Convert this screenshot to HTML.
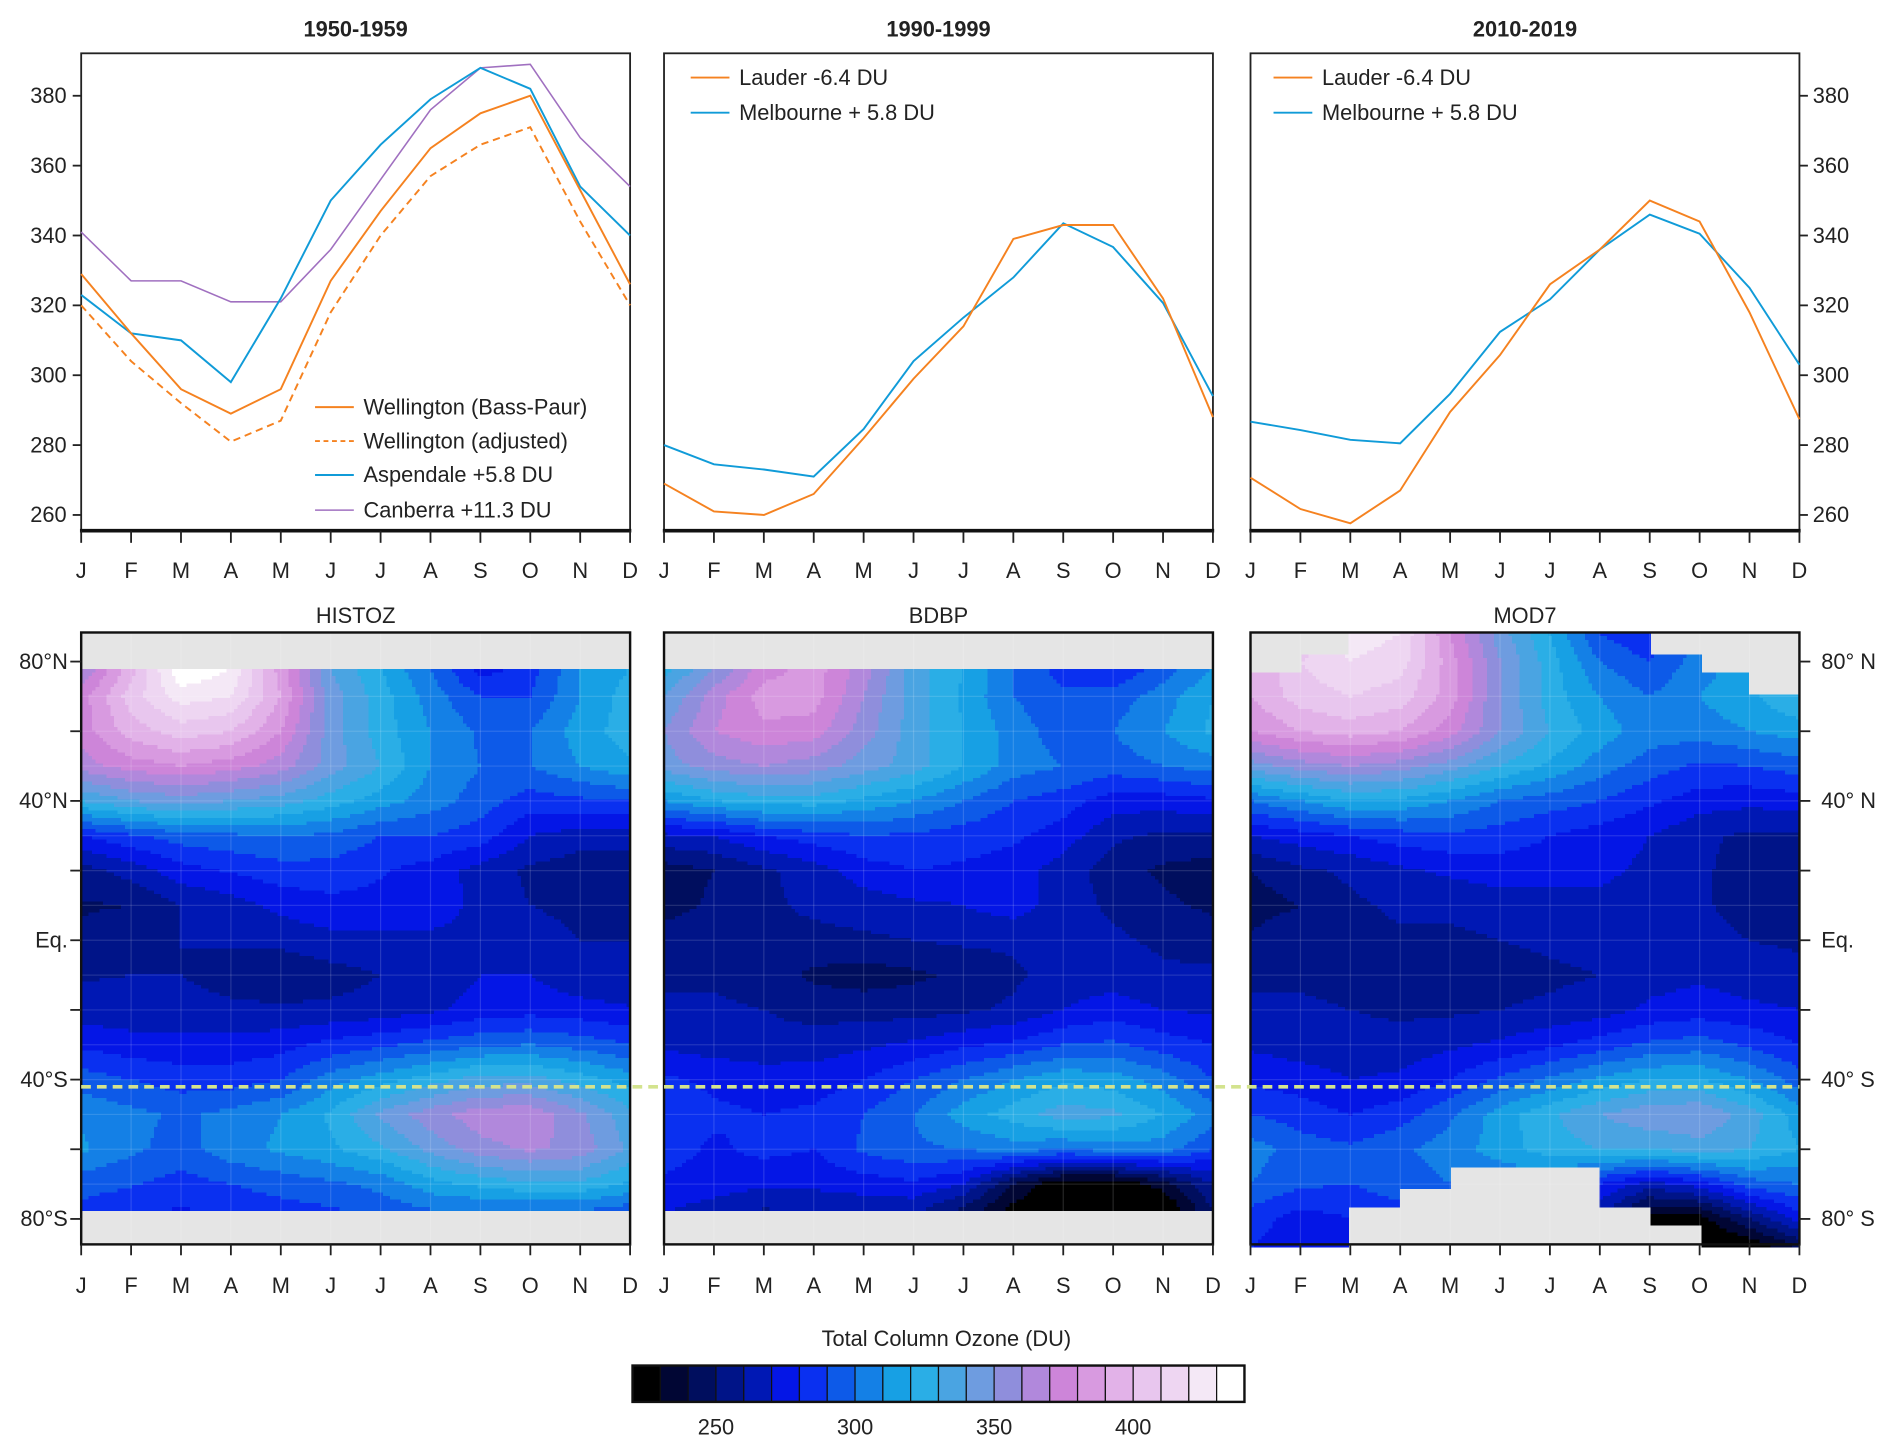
<!DOCTYPE html>
<html><head><meta charset="utf-8">
<style>
html,body{margin:0;padding:0;background:#fff;}
svg{display:block;font-family:"Liberation Sans",Arial,sans-serif;}
text{fill:#222;}
</style></head>
<body>
<svg id="fig" width="1900" height="1454" viewBox="0 0 1568 1200" preserveAspectRatio="none" xmlns="http://www.w3.org/2000/svg">
</svg>
<script>
// ---------- line chart data ----------
const months = ["J","F","M","A","M","J","J","A","S","O","N","D"];
const yTicks = [260,280,300,320,340,360,380];
const wellingtonBP = [329,312,296,289,296,327,347,365,375,380,353,326];
const wellingtonAdj = [320,304,292,281,287,318,340,357,366,371,344,320];
const aspendale = [323,312,310,298,322,350,366,379,388,382,354,340];
const canberra = [341,327,327,321,321,336,356,376,388,389,368,354];
const lauder90 = [269,261,260,266,282,299,314,339,343,343,322,288];
const melbourne90 = [280,274.5,273,271,284.6,304,316.5,328,343.5,336.7,320.7,294];
const lauder10 = [270.7,261.7,257.6,267,289.5,305.8,326,336,350,344,318,287.4];
const melbourne10 = [286.7,284.3,281.5,280.5,294.7,312.4,321.7,336,346,340.5,325,303];

// ---------- colour scale ----------
const cbLevels = [220,230,240,250,260,270,280,290,300,310,320,330,340,350,360,370,380,390,400,410,420,430,440];
const cbColors = ["#000000","#010634","#000e5e","#001488","#0018b4","#0416e6","#0a30f0","#0d5ae8","#1480e6","#17a0e4","#2aaee6","#4aa4e2","#6e9ce0","#8f8edc","#b188dc","#cd85d9","#d89ae0","#e2b2e8","#e8c6ee","#eed6f2","#f4e8f6","#ffffff"];
const cbTicks = [250,300,350,400];

// ---------- heatmap data (rows = latitude, cols = month) ----------
const latsA = [78,70,60,50,40,30,20,10,0,-10,-20,-30,-40,-50,-60,-70,-78];
const histoz = [
[360,395,440,430,385,340,320,300,275,285,310,320],
[375,405,425,420,390,345,325,305,290,290,310,325],
[375,395,405,400,380,345,325,310,298,300,315,325],
[365,375,380,375,365,345,330,310,300,300,310,318],
[330,340,345,340,335,325,315,305,295,285,288,290],
[280,288,295,298,300,298,290,290,285,270,265,265],
[256,264,276,281,286,286,281,276,266,258,254,254],
[249,250,260,265,273,277,277,277,266,260,257,253],
[252,256,260,261,263,267,267,267,267,265,260,260],
[259,260,260,256,252,256,260,263,270,270,263,262],
[264,264,264,262,262,262,264,268,274,276,274,271],
[278,274,273,274,276,283,288,293,298,300,296,290],
[295,290,285,285,290,305,315,325,335,335,325,315],
[308,303,298,303,310,322,342,356,366,368,352,333],
[312,302,296,306,312,318,328,343,356,362,356,338],
[293,291,286,290,294,298,303,316,323,328,328,318],
[288,283,278,283,286,288,293,298,298,298,298,293]];
const bdbp = [
[325,350,375,385,365,335,320,300,285,280,295,310],
[340,365,385,385,360,335,318,300,292,295,305,320],
[350,370,378,375,355,335,320,305,295,300,310,322],
[345,355,360,355,345,335,320,305,300,295,300,305],
[310,320,325,325,318,310,300,290,285,275,275,278],
[268,270,280,285,290,288,285,282,275,262,258,258],
[245,250,258,265,275,280,278,275,265,255,248,245],
[245,252,258,262,265,268,270,275,265,258,252,248],
[256,258,258,257,258,260,262,262,262,262,258,255],
[258,258,255,248,245,248,252,258,265,265,262,262],
[262,262,260,256,256,256,258,262,270,275,270,268],
[268,265,264,265,268,272,278,282,290,292,285,280],
[282,278,275,275,280,290,300,310,318,315,305,290],
[285,282,280,282,290,300,315,325,335,332,320,305],
[285,278,283,280,292,298,300,305,300,305,305,290],
[278,275,272,272,275,278,270,240,220,220,235,260],
[270,265,258,262,262,262,245,225,215,215,215,250]];
const latsB = [88,80,70,60,50,40,30,20,10,0,-10,-20,-30,-40,-50,-60,-70,-80,-88];
const mod7 = [
[380,400,425,420,380,345,320,290,280,300,310,330],
[390,410,420,415,385,350,325,300,290,305,315,335],
[390,405,410,405,385,350,325,310,300,310,318,330],
[380,390,395,390,375,350,330,315,305,305,310,315],
[345,355,360,355,345,330,318,305,295,288,290,295],
[300,310,320,318,310,300,295,290,282,275,273,275],
[270,275,280,285,288,285,280,275,270,262,258,258],
[250,258,262,268,272,275,275,272,268,262,255,250],
[245,250,258,262,262,265,265,268,265,262,255,252],
[252,258,258,258,258,260,262,264,265,264,260,258],
[258,258,256,256,252,256,258,260,266,268,265,264],
[262,262,260,258,258,260,262,265,272,275,272,270],
[268,265,264,264,268,272,278,285,292,295,288,280],
[278,275,270,272,280,292,302,312,320,320,310,295],
[290,285,280,285,298,315,328,340,348,350,335,315],
[305,295,292,298,305,315,325,330,330,335,330,320],
[300,292,290,295,300,300,300,280,265,275,295,300],
[285,275,280,285,290,290,290,260,225,225,250,275],
[280,275,275,280,280,280,280,250,220,215,220,240]];
// MOD7 data coverage per month interval (lat limits)
const mod7TopLat = [76.6,82,90,90,90,90,90,90,82,76.6,71];
const mod7BotLat = [-90,-90,-77,-71,-65.5,-65.5,-65.5,-77,-82,-90,-90];

// ---------- helpers ----------
const NS = "http://www.w3.org/2000/svg";
const svg = document.getElementById("fig");
function el(tag, attrs, parent, txt){
  const e = document.createElementNS(NS, tag);
  for (const k in attrs) e.setAttribute(k, attrs[k]);
  if (txt !== undefined) e.textContent = txt;
  (parent || svg).appendChild(e);
  return e;
}
const PW = 453;
const panelX = [67, 548, 1032];
function xM(p, i){ return panelX[p] + i * PW / 11; }
const TOP = 44, BOT = 438;
function yV(v){ return 425 - (v - 260) * 2.883; }
const MTOP = 522, MBOT = 1027;
function yLat(l){ return 546 + (80 - l) * 2.875; }
function latY(y){ return 80 - (y - 546) / 2.875; }
function colorFor(v){
  let k = Math.floor((v - 220) / 10);
  if (k < 0) k = 0; if (k > 21) k = 21;
  return cbColors[k];
}

const titles = ["1950-1959","1990-1999","2010-2019"];
const mapTitles = ["HISTOZ","BDBP","MOD7"];

// ---------- top line panels ----------
for (let p = 0; p < 3; p++){
  const g = el("g", {}, svg);
  
  
  const t = el("text", {x: panelX[p] + PW/2, y: 30, "text-anchor": "middle", "font-size": 18, "font-weight": "bold"}, g, titles[p]);
  
  
  el("rect", {x: panelX[p], y: TOP, width: PW, height: BOT - TOP, fill: "none", stroke: "#222", "stroke-width": 1.5}, g);
  el("line", {x1: panelX[p] - 1, x2: panelX[p] + PW + 1, y1: BOT, y2: BOT, stroke: "#111", "stroke-width": 3}, g);
  for (let i = 0; i < 12; i++){
    el("line", {x1: xM(p,i), x2: xM(p,i), y1: BOT, y2: BOT + 10, stroke: "#222", "stroke-width": 1.5}, g);
    const mt = el("text", {x: xM(p,i), y: 477, "text-anchor": "middle", "font-size": 18}, g, months[i]);
    
    
  }
}
for (const v of yTicks){
  el("line", {x1: 60, x2: 67, y1: yV(v), y2: yV(v), stroke: "#222", "stroke-width": 1.5});
  const a = el("text", {x: 55, y: yV(v) + 6, "text-anchor": "end", "font-size": 18}, svg, String(v));
  
  
  el("line", {x1: 1485, x2: 1492, y1: yV(v), y2: yV(v), stroke: "#222", "stroke-width": 1.5});
  const b = el("text", {x: 1496, y: yV(v) + 6, "text-anchor": "start", "font-size": 18}, svg, String(v));
  
  
}
function series(p, data, color, dash, name, width){
  const pts = data.map((v,i) => xM(p,i).toFixed(1) + "," + yV(v).toFixed(1)).join(" ");
  const l = el("polyline", {points: pts, fill: "none", stroke: color, "stroke-width": width || 1.6});
  if (dash) l.setAttribute("stroke-dasharray", dash);
  
  
}
const ORANGE = "#f58220", BLUE = "#109bd8", PURPLE = "#a070c0";
series(0, canberra, PURPLE, null, "canberra-line", 1.3);
series(0, aspendale, BLUE, null, "aspendale-line");
series(0, wellingtonAdj, ORANGE, "6 4", "wellington-adjusted-line");
series(0, wellingtonBP, ORANGE, null, "wellington-bass-paur-line");
series(1, melbourne90, BLUE, null, "melbourne-1990s-line");
series(1, lauder90, ORANGE, null, "lauder-1990s-line");
series(2, melbourne10, BLUE, null, "melbourne-2010s-line");
series(2, lauder10, ORANGE, null, "lauder-2010s-line");
function legend(x, y, color, dash, label, name, w){
  const g = el("g", {}, svg);
  
  
  const l = el("line", {x1: x, x2: x + 32, y1: y, y2: y, stroke: color, "stroke-width": w || 1.6}, g);
  if (dash) l.setAttribute("stroke-dasharray", dash);
  el("text", {x: x + 40, y: y + 6, "font-size": 18}, g, label);
}
legend(260, 336, ORANGE, null, "Wellington (Bass-Paur)", "legend-wellington-bass-paur");
legend(260, 364, ORANGE, "4 3", "Wellington (adjusted)", "legend-wellington-adjusted");
legend(260, 392, BLUE, null, "Aspendale +5.8 DU", "legend-aspendale");
legend(260, 421, PURPLE, null, "Canberra +11.3 DU", "legend-canberra", 1.3);
legend(570, 64, ORANGE, null, "Lauder -6.4 DU", "legend-lauder-1990s");
legend(570, 93, BLUE, null, "Melbourne + 5.8 DU", "legend-melbourne-1990s");
legend(1051, 64, ORANGE, null, "Lauder -6.4 DU", "legend-lauder-2010s");
legend(1051, 93, BLUE, null, "Melbourne + 5.8 DU", "legend-melbourne-2010s");

// ---------- maps ----------
function sample(grid, lats, fm, lat){
  let i0 = Math.floor(fm); if (i0 > 10) i0 = 10; if (i0 < 0) i0 = 0;
  const tx = fm - i0;
  let r = 0;
  while (r < lats.length - 2 && lat < lats[r + 1]) r++;
  let ty = (lats[r] - lat) / (lats[r] - lats[r + 1]);
  ty = Math.max(0, Math.min(1, ty));
  const a = grid[r][i0] * (1 - tx) + grid[r][i0 + 1] * tx;
  const b = grid[r + 1][i0] * (1 - tx) + grid[r + 1][i0 + 1] * tx;
  return a * (1 - ty) + b * ty;
}
const maps = [histoz, bdbp, mod7];
const mapLats = [latsA, latsA, latsB];
for (let p = 0; p < 3; p++){
  const g = el("g", {}, svg);
  
  
  const tt = el("text", {x: panelX[p] + PW/2, y: 514, "text-anchor": "middle", "font-size": 18}, g, mapTitles[p]);
  
  
  el("rect", {x: panelX[p], y: MTOP, width: PW, height: MBOT - MTOP, fill: "#e5e5e5"}, g);
  const grid = maps[p], lats = mapLats[p];
  const topLat = lats[0], botLat = lats[lats.length - 1];
  const DX = 3, DY = 3;
  const cells = el("g", {"shape-rendering": "crispEdges"}, g);
  
  
  for (let y = MTOP; y < MBOT; y += DY){
    const lat = latY(y + DY/2);
    if (lat > topLat || lat < botLat) continue;
    let runStart = null, runColor = null;
    const flush = (xe) => {
      if (runColor) {
        el("rect", {x: runStart, y: y, width: xe - runStart + 0.4, height: DY + 0.4, fill: runColor}, cells);
      }
    };
    for (let x = panelX[p]; x < panelX[p] + PW; x += DX){
      const fm = (x + DX/2 - panelX[p]) / (PW / 11);
      let col = colorFor(sample(grid, lats, fm, lat));
      if (p === 2){
        const iv = Math.min(10, Math.floor(fm));
        if (lat > mod7TopLat[iv] || lat < mod7BotLat[iv]) col = null;
      }
      if (col !== runColor){ flush(x); runStart = x; runColor = col; }
    }
    flush(panelX[p] + PW);
  }
  for (let i = 1; i < 11; i++) el("line", {x1: xM(p,i), x2: xM(p,i), y1: MTOP, y2: MBOT, stroke: "#fff", "stroke-opacity": 0.15, "stroke-width": 1}, g);
  for (let l = 70; l >= -70; l -= 10) el("line", {x1: panelX[p], x2: panelX[p] + PW, y1: yLat(l), y2: yLat(l), stroke: "#fff", "stroke-opacity": 0.13, "stroke-width": 1}, g);
  el("rect", {x: panelX[p], y: MTOP, width: PW, height: MBOT - MTOP, fill: "none", stroke: "#111", "stroke-width": 2}, g);
  for (let i = 0; i < 12; i++){
    el("line", {x1: xM(p,i), x2: xM(p,i), y1: MBOT, y2: MBOT + 9, stroke: "#222", "stroke-width": 1.5}, g);
    const mt = el("text", {x: xM(p,i), y: 1067, "text-anchor": "middle", "font-size": 18}, g, months[i]);
    
    
  }
}
const latMajors = [80,40,0,-40,-80];
const latLeft = ["80°N","40°N","Eq.","40°S","80°S"];
const latRight = ["80° N","40° N","Eq.","40° S","80° S"];
for (let l = 80; l >= -80; l -= 20){
  el("line", {x1: 58, x2: 67, y1: yLat(l), y2: yLat(l), stroke: "#222", "stroke-width": 1.5});
  el("line", {x1: 1485, x2: 1494, y1: yLat(l), y2: yLat(l), stroke: "#222", "stroke-width": 1.5});
}
latMajors.forEach((l, i) => {
  const a = el("text", {x: 56, y: yLat(l) + 6, "text-anchor": "end", "font-size": 18}, svg, latLeft[i]);
  
  
  const b = el("text", {x: 1503, y: yLat(l) + 6, "text-anchor": "start", "font-size": 18}, svg, latRight[i]);
  
  
});
const dl = el("line", {x1: 67, x2: 1485, y1: 897, y2: 897, stroke: "#d3e38e", "stroke-width": 3, "stroke-dasharray": "8 5"});



// ---------- colour bar ----------
const cb = el("g", {}, svg);


const ct = el("text", {x: 781, y: 1111, "text-anchor": "middle", "font-size": 18}, cb, "Total Column Ozone (DU)");


const CBX0 = 522, CBX1 = 1027, CBY = 1127, CBH = 30;
function xCb(v){ return CBX0 + (v - cbLevels[0]) / (cbLevels[cbLevels.length-1] - cbLevels[0]) * (CBX1 - CBX0); }
for (let k = 0; k < cbColors.length; k++){
  const r = el("rect", {x: xCb(cbLevels[k]), y: CBY, width: xCb(cbLevels[k+1]) - xCb(cbLevels[k]), height: CBH, fill: cbColors[k], stroke: "#111", "stroke-width": 1}, cb);
  
  
}
el("rect", {x: CBX0, y: CBY, width: CBX1 - CBX0, height: CBH, fill: "none", stroke: "#111", "stroke-width": 2}, cb);
for (const v of cbTicks){
  const t = el("text", {x: xCb(v), y: 1184, "text-anchor": "middle", "font-size": 18}, cb, String(v));
  
  
}
</script>
</body></html>
